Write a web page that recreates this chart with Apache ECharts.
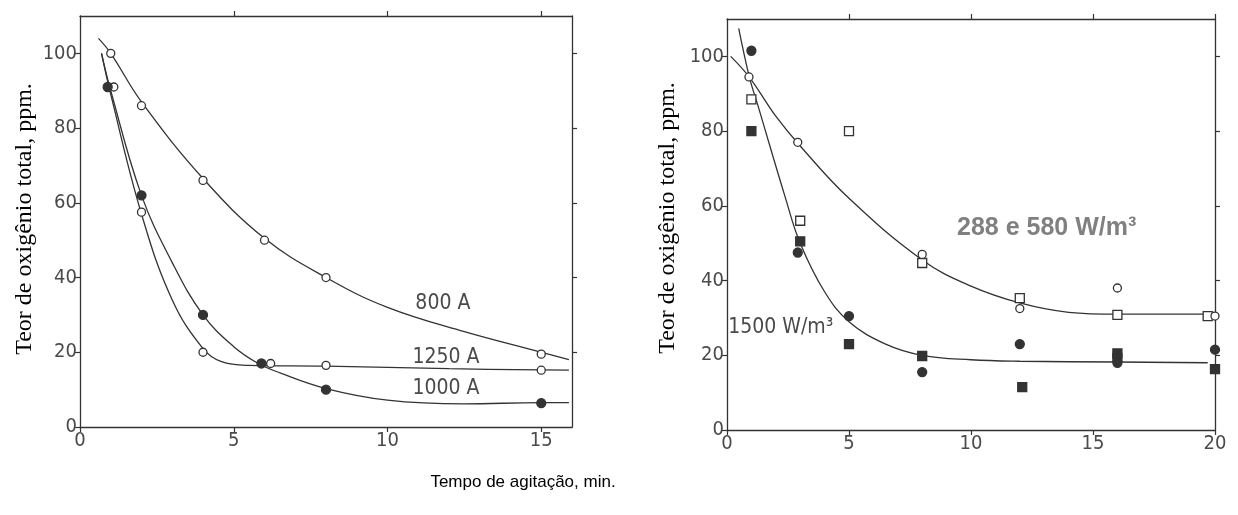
<!DOCTYPE html>
<html><head><meta charset="utf-8">
<script src="https://cdn.jsdelivr.net/npm/echarts@6/dist/echarts.min.js"></script>
<style>html,body{margin:0;padding:0;background:#fff}#c{width:1238px;height:515px}</style>
</head><body><div id="c"></div>
<script>
// ---- tick labels ----
const leftXTicks = [0, 5, 10, 15];
const rightXTicks = [0, 5, 10, 15, 20];
const yTicks = [0, 20, 40, 60, 80, 100];
const yBoxTicks = [20, 40, 60, 80, 100];

// ---- left panel: measured points ----
const p800  = [[1,100],[2,86],[4,66],[6,50],[8,40],[15,19.5]];
const p1250 = [[1.1,91],[2,57.5],[4,20],[6.2,17],[8,16.5],[15,15.2]];
const p1000 = [[0.9,91],[2,62],[4,30],[5.9,17],[8,10],[15,6.4]];
// ---- left panel: drawn curves ----
const c800  = [[0.6,104],[1,100],[2,87],[4,66.5],[6,50.5],[8,40],[10,32],[12.5,25.5],[15,20],[15.9,18]];
const c1250 = [[0.7,100],[1,89],[2,57],[3,34],[4,21],[4.6,17.5],[5.5,16.5],[8,16.3],[12,15.6],[15.9,15.2]];
const c1000 = [[0.7,100],[1,90],[2,62],[3,44],[4,30],[5,21.5],[5.8,17],[6.5,14.5],[8,10.3],[10,7.2],[12.5,6.2],[15,6.5],[15.9,6.5]];

// ---- right panel: measured points ----
const openCircle  = [[0.9,94.5],[2.9,77],[8,47],[12,32.5],[16,38],[20,30.5]];
const openSquare  = [[1,88.5],[5,80],[3,56],[8,44.7],[12,35.3],[16,30.8],[19.7,30.5]];
const fillCircle  = [[1,101.5],[2.9,47.5],[5,30.5],[8,15.5],[12,23],[16,18],[20,21.5]];
const fillSquare  = [[1,80],[3,50.5],[5,23],[8,19.8],[12.1,11.5],[16,20.5],[16,19.3],[20,16.3]];
// ---- right panel: drawn curves ----
const cLow  = [[0.15,100],[0.92,94.4],[2,84],[3,76],[5,62],[8,45.5],[10,38.5],[12,34],[14,31.5],[16,31],[20,31]];
const cHigh = [[0.48,107.5],[0.92,94.4],[1.26,87],[2.4,62],[3,50],[4,37],[5,29],[6.5,23],[8,20],[10,18.8],[12,18.4],[16,18.2],[19.7,18]];

const INK = '#333';
const LBL = '#4a4a4a';
const NARROW = '"DejaVu Sans Condensed","Liberation Sans Narrow","Roboto Condensed",sans-serif';
const tickFont = {fontFamily:NARROW, fontSize:20, color:LBL};

function xAx(grid, max, ticks, pos){
  const bottom = pos === 'bottom';
  return {type:'value', gridIndex:grid, min:0, max:max, position:pos, interval:5,
    axisLine:{show:true, onZero:false, lineStyle:{color:INK, width:1.3}},
    axisTick:{show:true, inside:false, length:5, customValues: bottom ? ticks : ticks.filter(v=>v>0), lineStyle:{color:INK, width:1.2}},
    axisLabel:{show:bottom, customValues:ticks, margin:4, ...tickFont},
    splitLine:{show:false}};
}
function yAx(grid, pos){
  const left = pos === 'left';
  return {type:'value', gridIndex:grid, min:0, max:110, interval:20, position:pos,
    axisLine:{show:true, onZero:false, lineStyle:{color:INK, width:1.3}},
    axisTick:{show:true, inside:false, length:5, customValues: left ? yTicks : yBoxTicks, lineStyle:{color:INK, width:1.2}},
    axisLabel:{show:left, customValues:yTicks, margin:3, ...tickFont},
    splitLine:{show:false}};
}
function curve(data, xi, yi){
  return {type:'line', data:data, xAxisIndex:xi, yAxisIndex:yi, smooth:0.4, showSymbol:false, silent:true,
    lineStyle:{color:INK, width:1.3}, z:2};
}
function pts(data, xi, yi, symbol, filled, size){
  return {type:'scatter', data:data, xAxisIndex:xi, yAxisIndex:yi, symbol:symbol, symbolSize:size, z:5, silent:true,
    itemStyle:{color: filled ? INK : '#fff', borderColor:INK, borderWidth:1.3, opacity:1}};
}
function note(xi, yi, items){
  return {type:'scatter', data:[], xAxisIndex:xi, yAxisIndex:yi, silent:true,
    markPoint:{symbol:'circle', symbolSize:0, silent:true, data: items.map(it=>({coord:it.c, label:Object.assign({show:true, position:'inside', formatter:it.t}, it.s)}))}};
}
const annoFont = {fontFamily:NARROW, fontSize:21, color:LBL};

const option = {
  backgroundColor:'#fff',
  animation:false,
  grid:[{left:80, top:16, width:492, height:411}, {left:727, top:19, width:488, height:411}],
  xAxis:[xAx(0,16,leftXTicks,'bottom'), xAx(0,16,leftXTicks,'top'), xAx(1,20,rightXTicks,'bottom'), xAx(1,20,rightXTicks,'top')],
  yAxis:[yAx(0,'left'), yAx(0,'right'), yAx(1,'left'), yAx(1,'right')],
  series:[
    curve(c800,0,0), curve(c1250,0,0), curve(c1000,0,0),
    pts(p800,0,0,'circle',false,8), pts(p1250,0,0,'circle',false,8), pts(p1000,0,0,'circle',true,9),
    curve(cLow,2,2), curve(cHigh,2,2),
    pts(openSquare,2,2,'rect',false,9), pts(openCircle,2,2,'circle',false,8),
    pts(fillSquare,2,2,'rect',true,9), pts(fillCircle,2,2,'circle',true,9),
    note(0,0,[{c:[11.8,33],t:'800 A',s:annoFont},{c:[11.9,18.6],t:'1250 A',s:annoFont},{c:[11.9,10.4],t:'1000 A',s:annoFont}]),
    note(2,2,[{c:[2.2,27.5],t:'1500 W/m³',s:annoFont},
              {c:[13.1,54],t:'288 e 580 W/m³',s:{fontFamily:'"Liberation Sans",Arial,sans-serif', fontWeight:'bold', fontSize:25, color:'#808080'}}])
  ],
  graphic:[
    {type:'text', x:25, y:219, rotation:Math.PI/2, style:{text:'Teor de oxigênio total, ppm.', font:'24px "Liberation Serif","Times New Roman",serif', fill:'#000', textAlign:'center', textVerticalAlign:'middle'}},
    {type:'text', x:668, y:218, rotation:Math.PI/2, style:{text:'Teor de oxigênio total, ppm.', font:'24px "Liberation Serif","Times New Roman",serif', fill:'#000', textAlign:'center', textVerticalAlign:'middle'}},
    {type:'text', x:523, y:482, style:{text:'Tempo de agitação, min.', font:'17px "Liberation Sans",Arial,sans-serif', fill:'#000', textAlign:'center', textVerticalAlign:'middle'}}
  ]
};
const chart = echarts.init(document.getElementById('c'), null, {renderer:'canvas'});
chart.setOption(option);
</script></body></html>
